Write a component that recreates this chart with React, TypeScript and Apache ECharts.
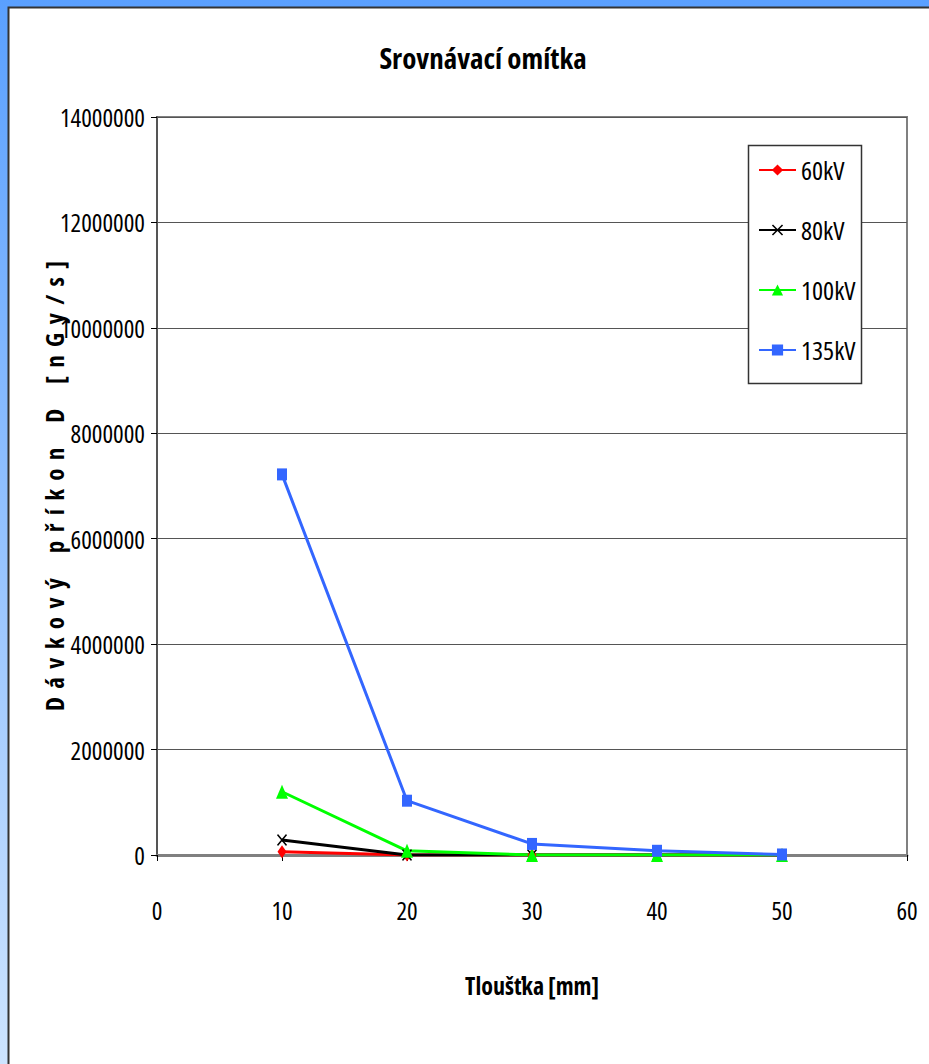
import React, { useEffect, useRef } from "react";
import * as echarts from "echarts";

const thickness = [10, 20, 30, 40, 50];
const s60 = [60000, 0, 0, 0, 0];
const s80 = [285000, 0, 0, 0, 0];
const s100 = [1200000, 80000, 0, 0, 0];
const s135 = [7220000, 1030000, 210000, 80000, 10000];
const seriesNames = ["60kV", "80kV", "100kV", "135kV"];
const yTicks = [0, 2000000, 4000000, 6000000, 8000000, 10000000, 12000000, 14000000];
const xTicks = [0, 10, 20, 30, 40, 50, 60];

const FONT = "Open Sans;font-stretch:75%";

const spaced = (s: string) =>
  s.split(" ").map((w) => w.split("").join("\u2004")).join("\u2004\u2004\u2004");

const xSymbol = "path://M0,1L1,0L5,4L9,0L10,1L6,5L10,9L9,10L5,6L1,10L0,9L4,5Z";

export default function App() {
  const ref = useRef<HTMLDivElement>(null);
  useEffect(() => {
    if (!ref.current) return;
    const chart = echarts.init(ref.current, undefined, { renderer: "svg" });
    const pairs = (vals: number[]) => thickness.map((t, i) => [t, vals[i]]);
    const mk = (name: string, vals: number[], color: string, symbol: string, size: number[]) => ({
      name,
      type: "line",
      data: pairs(vals),
      symbol,
      symbolSize: size,
      lineStyle: { color, width: 3 },
      itemStyle: { color },
      emphasis: { disabled: true },
    });
    chart.setOption({
      animation: false,
      textStyle: { fontFamily: FONT },
      graphic: [
        {
          type: "rect",
          z: -20,
          shape: { x: 0, y: 0, width: 929, height: 1064 },
          style: {
            fill: new echarts.graphic.LinearGradient(0, 0, 0, 1, [
              { offset: 0, color: "#5aa0ff" },
              { offset: 1, color: "#cde4ff" },
            ]),
          },
        },
        {
          type: "rect",
          z: -19,
          shape: { x: 8.5, y: 7.5, width: 940, height: 1070 },
          style: { fill: "#ffffff", stroke: "#333333", lineWidth: 2 },
        },
        {
          type: "rect",
          z: 5,
          shape: { x: 748.5, y: 145.5, width: 113, height: 238 },
          style: { fill: "#ffffff", stroke: "#333333", lineWidth: 1.5 },
        },
      ],
      title: {
        text: "Srovnávací omítka",
        left: 478,
        top: 47,
        textAlign: "center",
        textStyle: { fontFamily: FONT, fontSize: 29, fontWeight: "bold", color: "#000" },
      },
      legend: {
        orient: "vertical",
        left: 758,
        top: 158,
        padding: 0,
        itemGap: 36,
        itemWidth: 37,
        itemHeight: 14,
        z: 10,
        data: seriesNames,
        textStyle: { fontFamily: FONT, fontSize: 26, lineHeight: 24, color: "#000" },
      },
      grid: {
        left: 157,
        top: 117,
        right: 22,
        bottom: 209,
        show: true,
        borderColor: "#808080",
        borderWidth: 2,
        backgroundColor: "transparent",
      },
      xAxis: {
        type: "value",
        min: xTicks[0],
        max: xTicks[xTicks.length - 1],
        interval: 10,
        name: "Tloušťka [mm]",
        nameLocation: "middle",
        nameGap: 125,
        nameMoveOverlap: false,
        nameTextStyle: { fontFamily: FONT, fontSize: 24, fontWeight: "bold", color: "#000" },
        axisLine: { onZero: true, lineStyle: { color: "#808080", width: 3 } },
        axisTick: { show: true, length: 6, lineStyle: { color: "#000", width: 1 } },
        axisLabel: { fontFamily: FONT, fontSize: 25, color: "#000", margin: 50, formatter: (v: number) => String(v) },
        splitLine: { show: false },
      },
      yAxis: {
        type: "value",
        min: yTicks[0],
        max: yTicks[yTicks.length - 1],
        interval: 2000000,
        name: spaced("Dávkový příkon D [nGy/s]"),
        nameLocation: "middle",
        nameGap: 98,
        nameMoveOverlap: false,
        nameRotate: 90,
        nameTextStyle: { fontFamily: FONT, fontSize: 25, fontWeight: "bold", color: "#000" },
        axisLine: { show: true, lineStyle: { color: "#555", width: 2 } },
        axisTick: { show: true, length: 6, lineStyle: { color: "#000", width: 1 } },
        axisLabel: { fontFamily: FONT, fontSize: 25, color: "#000", margin: 12, formatter: (v: number) => String(v) },
        splitLine: { show: true, lineStyle: { color: "#555", width: 1 } },
      },
      series: [
        mk("60kV", s60, "#ff0000", "diamond", [9, 13]),
        mk("80kV", s80, "#000000", xSymbol, [10, 12]),
        mk("100kV", s100, "#00ff00", "triangle", [12, 14]),
        mk("135kV", s135, "#3366ff", "rect", [10, 12]),
      ],
    });
    return () => chart.dispose();
  }, []);
  return (
    <div
      ref={ref}
      style={{ position: "absolute", left: 0, top: 0, width: 929, height: 1064 }}
    />
  );
}
